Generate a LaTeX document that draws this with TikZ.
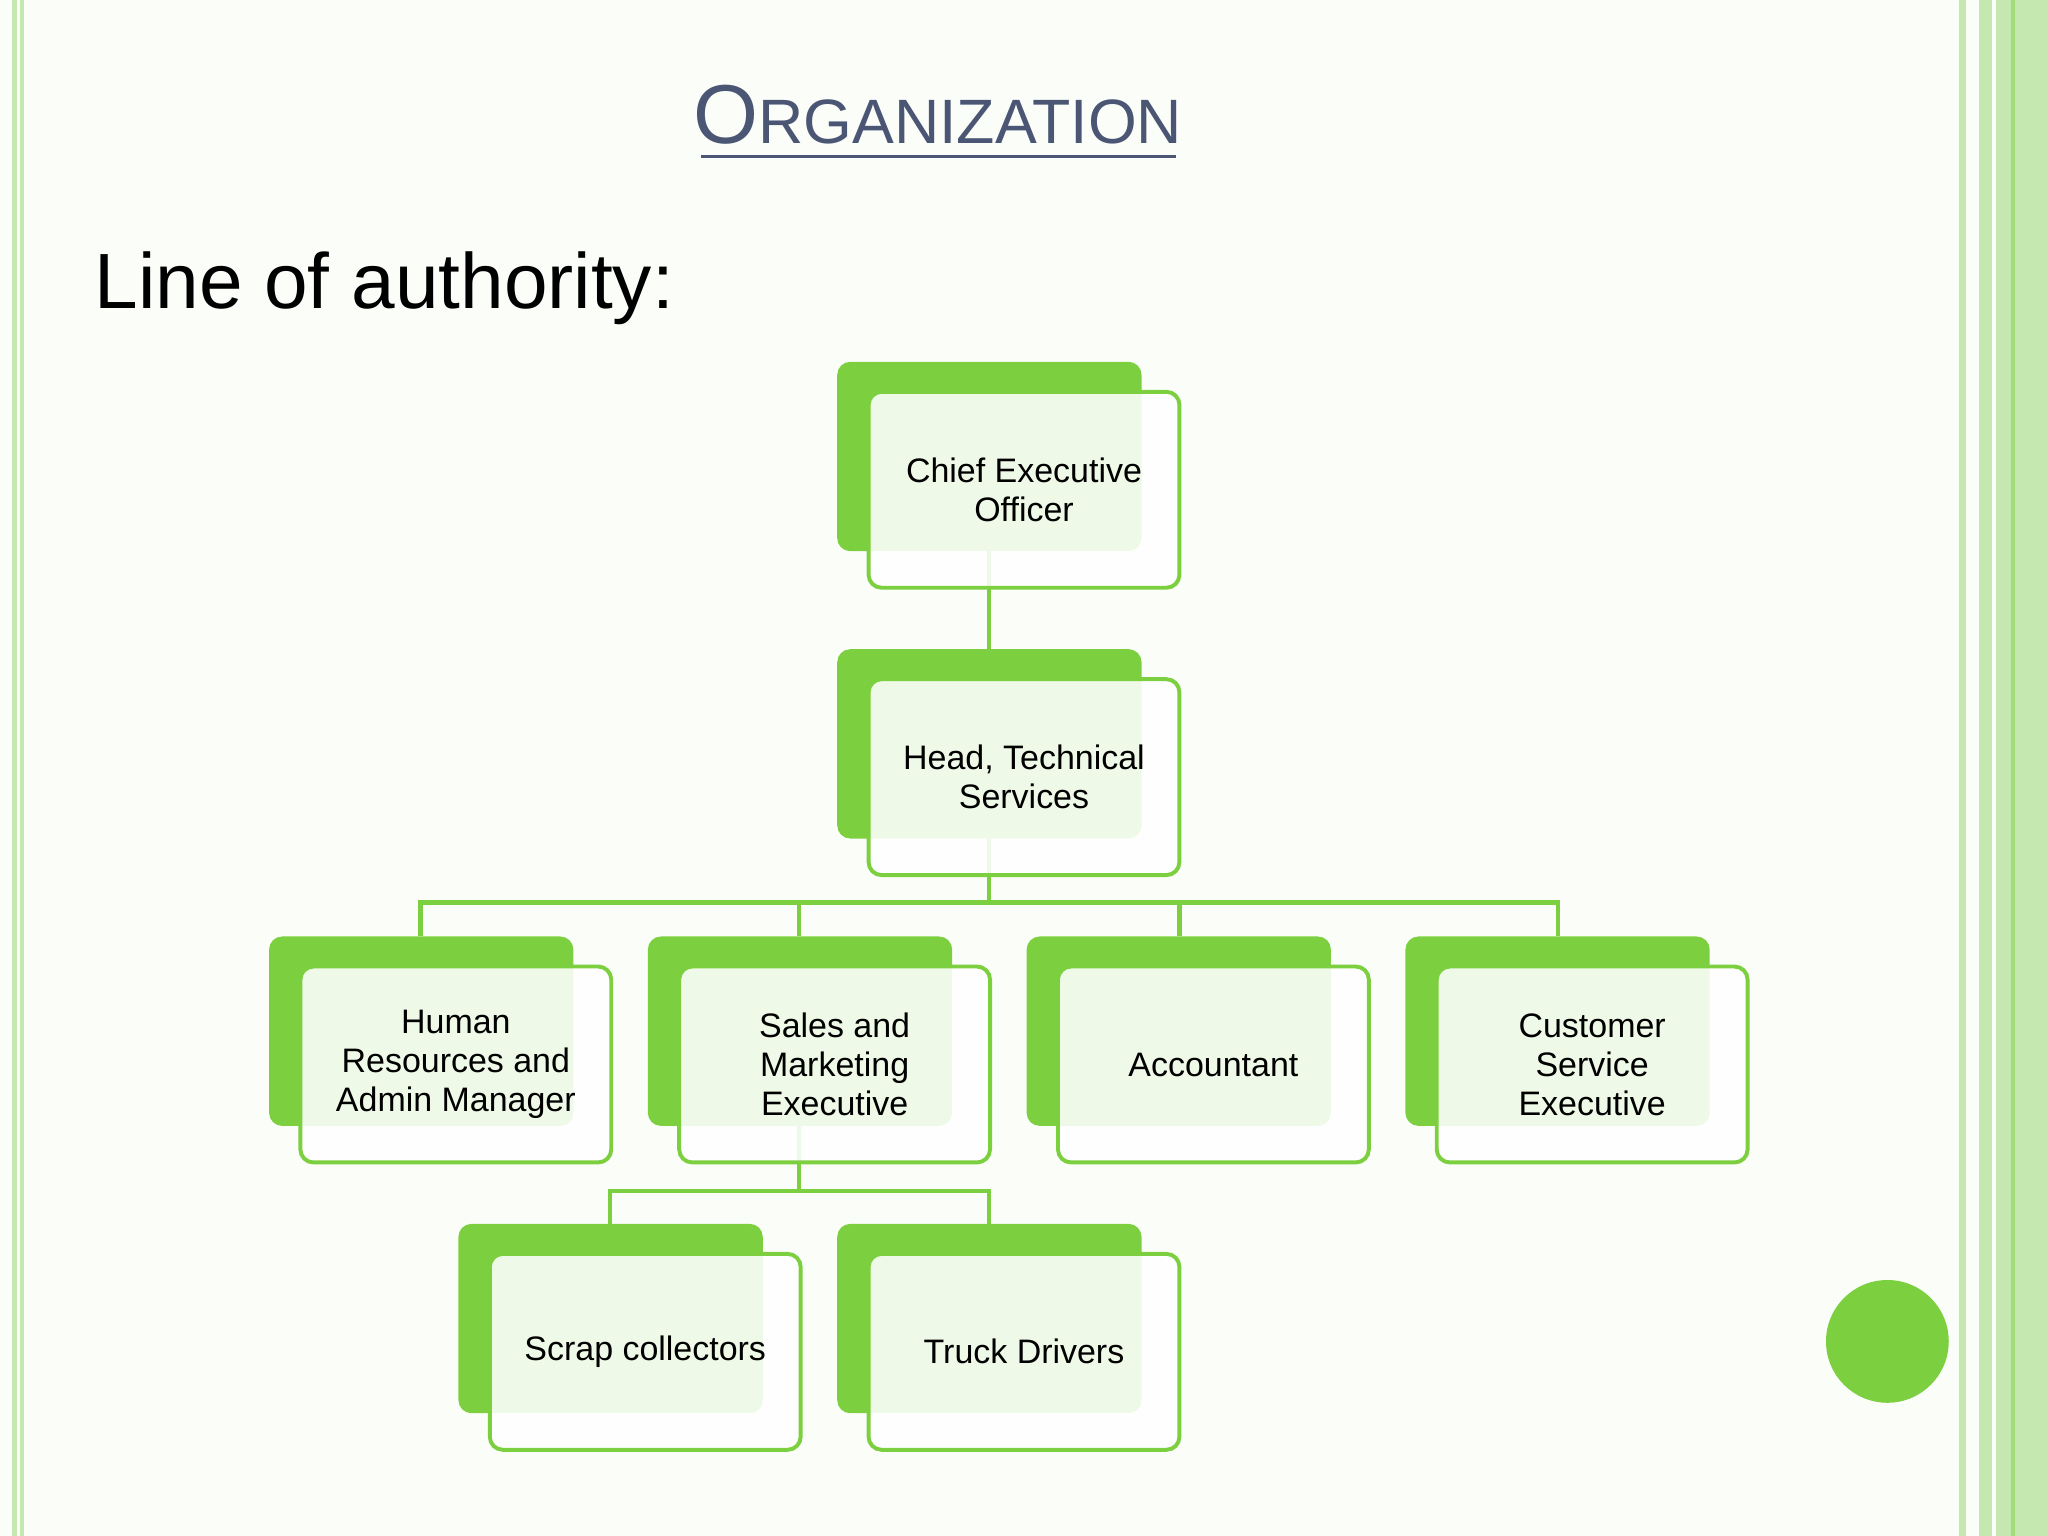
\documentclass[tikz,border=0pt]{standalone}
\usepackage{fontspec}
\setmainfont{Liberation Sans}
\definecolor{gr}{HTML}{7CCF3F}
\definecolor{lgr}{HTML}{C5E8B0}
\definecolor{ttl}{HTML}{4B5675}
\definecolor{bg}{HTML}{FBFDF9}
\begin{document}
\begin{tikzpicture}[x=0.5pt,y=-0.5pt,
 back/.style={fill=gr,rounded corners=5pt},
 front/.style={draw=gr,line width=1.5pt,fill=white,fill opacity=0.88,text opacity=1,rounded corners=5pt,minimum width=119pt,minimum height=75pt,align=center,font=\fontsize{13}{15}\selectfont,inner sep=1pt},
 conn/.style={gr,line width=1.6pt}]
\fill[bg] (0,0) rectangle (1568,1176);
\useasboundingbox (0,0) rectangle (1568,1176);
% borders
\fill[lgr] (9,0) rectangle (13,1176);
\fill[lgr] (15,0) rectangle (18,1176);
\fill[lgr] (1500,0) rectangle (1505,1176);
\fill[lgr] (1515,0) rectangle (1568,1176);
\fill[bg] (1525,0) rectangle (1528,1176);
\fill[gr!70] (1540,0) rectangle (1543,1176);
\fill[gr] (1445,1027) circle (47);
% titles
\node[text=ttl,anchor=base] (title) at (718,110) {\fontsize{32}{36}\selectfont O\fontsize{24}{28}\selectfont RGANIZATION};
\draw[ttl,line width=1.2pt] (537,120) -- (900,120);
\node[anchor=base west,inner sep=0] (sub) at (72,236) {\fontsize{30}{34}\selectfont Line of authority:};
% connectors
\coordinate (b1) at (757,691);
\draw[conn] (757,422) -- (757,497);
\draw[conn] (757,642) -- (b1);
\draw[conn] (322,717) -- (322,691) -- (1193,691) -- (1193,717);
\draw[conn] (612,691) -- (612,717);
\draw[conn] (903,691) -- (903,717);
\draw[conn] (612,862) -- (612,912);
\draw[conn] (467,937) -- (467,912) -- (757,912) -- (757,937);
% boxes
\foreach \bx/\by in {641/277,641/497,206/717,496/717,786/717,1076/717,351/937,641/937}
  \fill[back] (\bx,\by) rectangle ++(233,145);
\node[front] (ceo) at (784,375) {Chief Executive\\Officer};
\node[front] (head) at (784,595) {Head, Technical\\Services};
\node[front] (hr) at (349,815) {Human\\Resources and\\Admin Manager};
\node[front] (sales) at (639,815) {Sales and\\Marketing\\Executive};
\node[front] (acc) at (929,815) {Accountant};
\node[front] (cs) at (1219,815) {Customer\\Service\\Executive};
\node[front] (scrap) at (494,1035) {Scrap collectors};
\node[front] (truck) at (784,1035) {Truck Drivers};
\end{tikzpicture}
\end{document}
